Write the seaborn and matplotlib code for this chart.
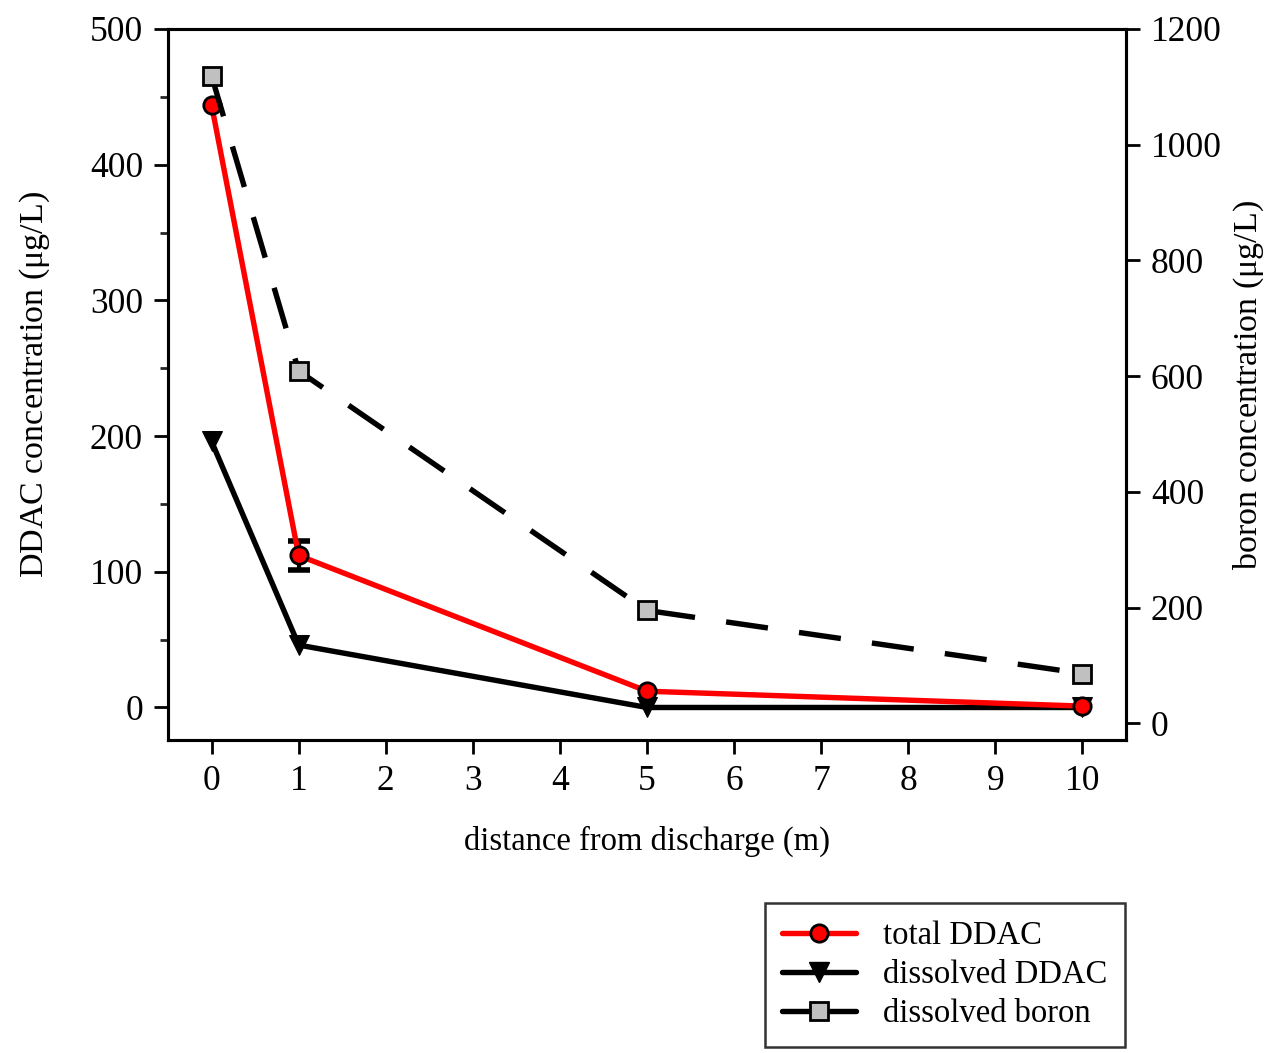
import matplotlib
matplotlib.use("Agg")
import matplotlib.pyplot as plt
import seaborn as sns
import pandas as pd
import numpy as np
from matplotlib.lines import Line2D
from matplotlib.ticker import MultipleLocator

# Concentrations along the discharge transect
distance_m = [0, 1, 5, 10]
total_ddac = [444, 112, 12, 1]
total_ddac_err = [0, 11, 0, 0]
dissolved_ddac = [196, 46, 0, 0]
dissolved_boron = [1119, 609, 195, 86]

x_ticks = list(range(0, 11))
ddac_ticks = [0, 100, 200, 300, 400, 500]
boron_ticks = [0, 200, 400, 600, 800, 1000, 1200]

sns.set_style("ticks")
plt.rcParams["font.family"] = ["Liberation Serif", "DejaVu Serif"]
plt.rcParams["mathtext.fontset"] = "stix"
plt.rcParams["text.color"] = "black"
plt.rcParams["axes.labelcolor"] = "black"

df = pd.DataFrame({
    "distance": distance_m,
    "total": total_ddac,
    "dissolved": dissolved_ddac,
    "boron": dissolved_boron,
})

fig = plt.figure(figsize=(12.70, 10.53), dpi=100)
ax = fig.add_axes([0.1323, 0.2972, 0.7543, 0.6753])
ax2 = ax.twinx()

lw = 3.9
tick_fs = 25.5

sns.lineplot(data=df, x="distance", y="dissolved", ax=ax, color="black",
             linewidth=lw, marker="v", markersize=15, markerfacecolor="black",
             markeredgecolor="black", zorder=3)

mask = np.array(total_ddac_err) > 0
ax.errorbar(np.array(distance_m)[mask], np.array(total_ddac)[mask],
            yerr=np.array(total_ddac_err)[mask], fmt="none", ecolor="black",
            elinewidth=3, capsize=8, capthick=4, zorder=4)
sns.lineplot(data=df, x="distance", y="total", ax=ax, color="red",
             linewidth=lw, marker="o", markersize=12.5, markerfacecolor="red",
             markeredgecolor="black", markeredgewidth=2, zorder=5)

sns.lineplot(data=df, x="distance", y="boron", ax=ax2, color="black",
             linewidth=lw, dashes=False, zorder=3)
ax2.lines[-1].set_dashes([7.8, 5.8])
sns.lineplot(data=df, x="distance", y="boron", ax=ax2, color="none",
             linewidth=0, marker="s", markersize=12.5, markerfacecolor="#c0c0c0",
             markeredgecolor="black", markeredgewidth=2, zorder=4)

ax.set_xlim(-0.5, 10.5)
ax.set_ylim(-24, 500)
ax2.set_ylim(-29, 1200)
ax.set_xticks(x_ticks)
ax.set_yticks(ddac_ticks)
ax.yaxis.set_minor_locator(MultipleLocator(50))
ax2.set_yticks(boron_ticks)

ax.set_xlabel("distance from discharge (m)", fontsize=23.5, labelpad=20)
ax.set_ylabel("DDAC concentration ($\\mathregular{\\mu}$g/L)", fontsize=24.5, labelpad=27)
ax2.set_ylabel("boron concentration ($\\mathregular{\\mu}$g/L)", fontsize=24.5, labelpad=7)

for a in (ax, ax2):
    for s in a.spines.values():
        s.set_linewidth(2.2)
        s.set_color("black")
    a.tick_params(axis="both", which="major", length=10, width=2, labelsize=tick_fs,
                  direction="out", colors="black", pad=8)
    a.tick_params(axis="both", which="minor", length=6, width=2, direction="out")

legend_handles = [
    Line2D([], [], color="red", linewidth=lw, marker="o", markersize=12.5,
           markerfacecolor="red", markeredgecolor="black", markeredgewidth=2),
    Line2D([], [], color="black", linewidth=lw, marker="v", markersize=15,
           markerfacecolor="black", markeredgecolor="black"),
    Line2D([], [], color="black", linewidth=lw, marker="s", markersize=12.5,
           markerfacecolor="#c0c0c0", markeredgecolor="black", markeredgewidth=2),
]
leg = fig.legend(legend_handles, ["total DDAC", "dissolved DDAC", "dissolved boron"],
                 loc="upper left", bbox_to_anchor=(0.602, 0.1425),
                 fontsize=23.5, frameon=True, fancybox=False,
                 handlelength=2.24, labelspacing=0.26, borderpad=0.55,
                 borderaxespad=0.0, handletextpad=0.83)
leg.get_frame().set_edgecolor("black")
leg.get_frame().set_linewidth(1.8)

fig.savefig("out.png", dpi=100)
